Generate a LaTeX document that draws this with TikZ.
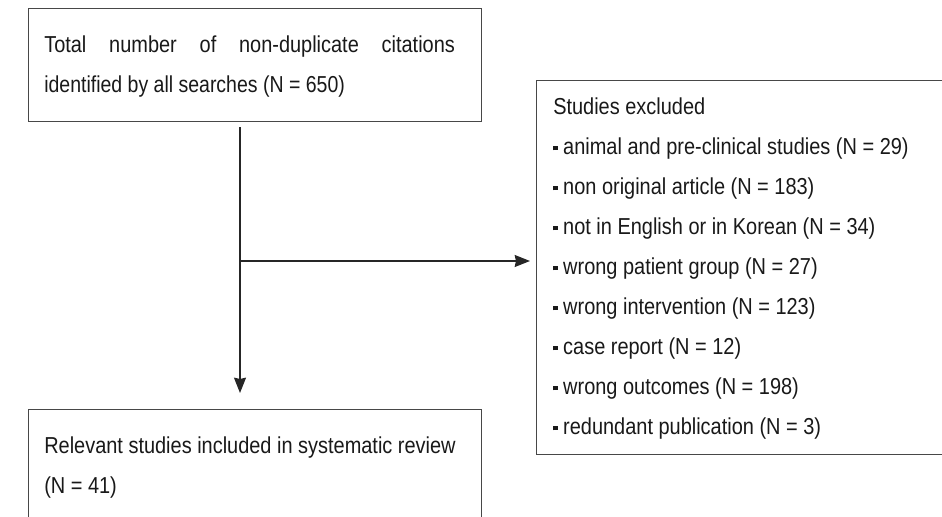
\documentclass[tikz,border=0pt]{standalone}
\usepackage{fontspec}
\setmainfont{Liberation Sans}[FakeStretch=0.865]
\newfontfamily\narrowfont{Liberation Sans}[FakeStretch=0.845]
\usetikzlibrary{arrows.meta}
\begin{document}
\begin{tikzpicture}[x=0.75pt,y=-0.75pt,
  boxline/.style={draw=black!72,line width=1pt},
  frame/.style={boxline,rectangle,anchor=north west,inner sep=0pt},
  txt/.style={anchor=base west,inner sep=0pt,text=black!90,font=\fontsize{17.3}{30}\selectfont},
  flow/.style={draw=black!85,line width=0.9pt,-{Stealth[length=11.5pt,width=9pt,inset=1pt]}}]
\useasboundingbox[fill=white] (0,0) rectangle (942,517);
% boxes
\node[frame,minimum width=453*0.75pt,minimum height=113*0.75pt] (top) at (28,8) {};
\node[frame,minimum width=460*0.75pt,minimum height=374*0.75pt] (excl) at (536,80) {};
\node[frame,minimum width=453*0.75pt,minimum height=160*0.75pt] (incl) at (28,409) {};
% texts
\node[txt] (t1) at (44,53) {\makebox[308pt][s]{Total number of non-duplicate citations}};
\node[txt] (t2) at (44,93) {\narrowfont identified by all searches (N = 650)};
\node[txt] (b1) at (44,453) {Relevant studies included in systematic review};
\node[txt] (b2) at (44,493) {(N = 41)};
\node[txt] (e0) at (553,114) {Studies excluded};
\foreach \i/\s in {1/animal and pre-clinical studies (N = 29),
                   2/non original article (N = 183),
                   3/not in English or in Korean (N = 34),
                   4/wrong patient group (N = 27),
                   5/wrong intervention (N = 123),
                   6/case report (N = 12),
                   7/wrong outcomes (N = 198),
                   8/redundant publication (N = 3)}
  \node[txt] (e\i) at (553,114+40*\i) {\raisebox{2.7pt}{\rule{3.3pt}{3.3pt}} \s};
% connectors
\coordinate (vs) at (240,127);
\coordinate (ve) at (240,393);
\coordinate (vj) at (240,261);
\coordinate (he) at (530,261);
\draw[flow] (vs) -- (ve);
\draw[flow] (vj) -- (he);
\end{tikzpicture}
\end{document}
